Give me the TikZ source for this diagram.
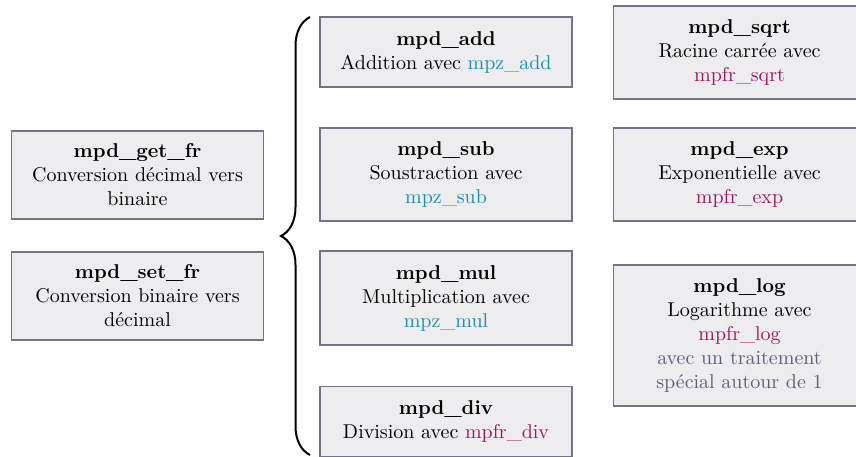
\documentclass[tikz,border=0pt]{standalone}
\usepackage{tikz}
\usetikzlibrary{decorations.pathreplacing}
\definecolor{boxfill}{RGB}{237,237,240}
\definecolor{boxline}{RGB}{112,116,132}
\definecolor{gmpcol}{RGB}{27,143,163}
\definecolor{mpfrcol}{RGB}{160,22,92}
\definecolor{notecol}{RGB}{92,96,118}
\tikzset{
  fn/.style={draw=boxline,fill=boxfill,line width=0.6pt,minimum width=126pt,align=center,inner sep=0pt}
}
\newcommand{\gz}[1]{\textcolor{gmpcol}{#1}}
\newcommand{\mf}[1]{\textcolor{mpfrcol}{#1}}

\begin{document}
\begin{tikzpicture}[x=0.5pt,y=-0.5pt]
    \useasboundingbox (0,0) rectangle (856,456);
    \clip (0,0) rectangle (856,456);
    \node[fn,minimum height=44pt] (get) at (137.5,175) {\textbf{mpd\_get\_fr}\\Conversion décimal vers\\binaire};
    \node[fn,minimum height=44pt] (set) at (137.5,296) {\textbf{mpd\_set\_fr}\\Conversion binaire vers\\décimal};
    \node[fn,minimum height=35pt] (add) at (446,52) {\textbf{mpd\_add}\\Addition avec \gz{mpz\_add}};
    \node[fn,minimum height=46.5pt] (sub) at (446,174.5) {\textbf{mpd\_sub}\\Soustraction avec\\\gz{mpz\_sub}};
    \node[fn,minimum height=47pt] (mul) at (446,298) {\textbf{mpd\_mul}\\Multiplication avec\\\gz{mpz\_mul}};
    \node[fn,minimum height=35pt] (div) at (446,421.5) {\textbf{mpd\_div}\\Division avec \mf{mpfr\_div}};
    \node[fn,minimum height=46.5pt] (sqrt) at (739.5,52.5) {\textbf{mpd\_sqrt}\\Racine carrée avec\\\mf{mpfr\_sqrt}};
    \node[fn,minimum height=46.5pt] (exp) at (739.5,174.5) {\textbf{mpd\_exp}\\Exponentielle avec\\\mf{mpfr\_exp}};
    \node[fn,minimum height=70.5pt] (log) at (739.5,335.5) {\textbf{mpd\_log}\\Logarithme avec\\\mf{mpfr\_log}\\\textcolor{notecol}{avec un traitement}\\\textcolor{notecol}{spécial autour de 1}};
    % accolade
    \coordinate (bbot) at (310,455);
    \coordinate (btop) at (310,17);
    \draw[line width=1pt,decorate,decoration={brace,amplitude=14.5pt}] (bbot) -- (btop);
\end{tikzpicture}
\end{document}
